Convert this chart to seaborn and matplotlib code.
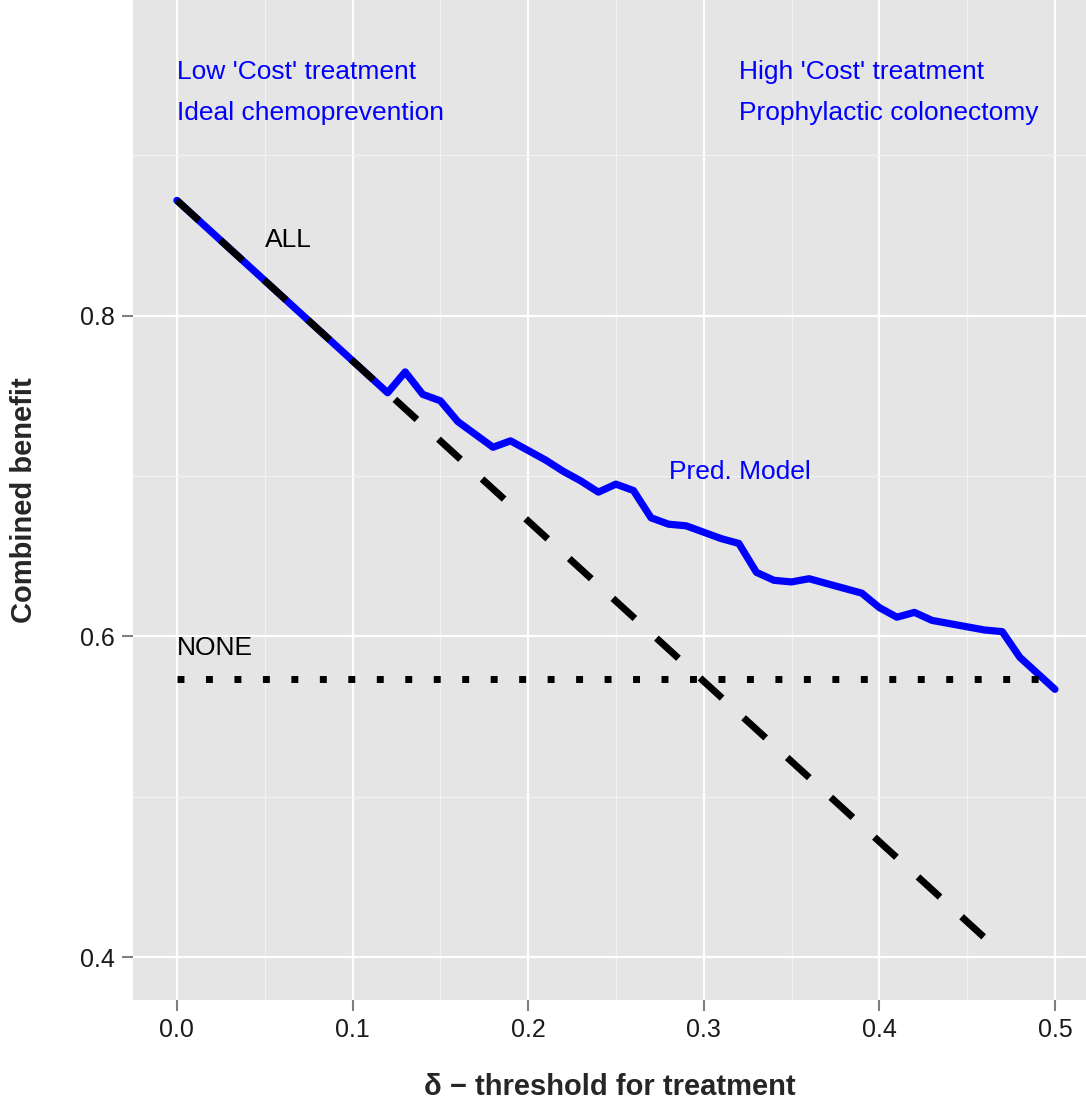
import numpy as np
import pandas as pd
import seaborn as sns
import matplotlib
matplotlib.use('Agg')
import matplotlib.pyplot as plt
from matplotlib.ticker import MultipleLocator

# Data
delta = [0.00, 0.01, 0.02, 0.03, 0.04, 0.05, 0.06, 0.07, 0.08, 0.09, 0.10,
         0.11, 0.12, 0.13, 0.14, 0.15, 0.16, 0.17, 0.18, 0.19, 0.20,
         0.21, 0.22, 0.23, 0.24, 0.25, 0.26, 0.27, 0.28, 0.29, 0.30,
         0.31, 0.32, 0.33, 0.34, 0.35, 0.36, 0.37, 0.38, 0.39, 0.40,
         0.41, 0.42, 0.43, 0.44, 0.45, 0.46, 0.47, 0.48, 0.49, 0.50]
pred_model = [0.872, 0.862, 0.852, 0.842, 0.832, 0.822, 0.812, 0.802, 0.792, 0.782, 0.772,
              0.762, 0.752, 0.765, 0.751, 0.747, 0.734, 0.726, 0.718, 0.722, 0.716,
              0.710, 0.703, 0.697, 0.690, 0.695, 0.691, 0.674, 0.670, 0.669, 0.665,
              0.661, 0.658, 0.640, 0.635, 0.634, 0.636, 0.633, 0.630, 0.627, 0.618,
              0.612, 0.615, 0.610, 0.608, 0.606, 0.604, 0.603, 0.587, 0.577, 0.567]
all_delta = [0.00, 0.46]
treat_all = [0.872, 0.412]
none_delta = [0.00, 0.50]
treat_none = [0.5735, 0.5735]

df_model = pd.DataFrame({'delta': delta, 'benefit': pred_model})
df_all = pd.DataFrame({'delta': all_delta, 'benefit': treat_all})
df_none = pd.DataFrame({'delta': none_delta, 'benefit': treat_none})

sns.set_theme(style='darkgrid', rc={'axes.facecolor': '#E5E5E5',
                                    'grid.color': 'white'})
plt.rcParams['font.family'] = ['Liberation Sans', 'DejaVu Sans']

fig = plt.figure(figsize=(10.86, 11.01), dpi=100)
ax = fig.add_axes([133 / 1086, 101 / 1101, 1 - 133 / 1086, 1000 / 1101])

# Pred. model curve (blue) under the ALL line
sns.lineplot(data=df_model, x='delta', y='benefit', color='#0000FF',
             linewidth=5.2, ax=ax, zorder=3)
sns.lineplot(data=df_all, x='delta', y='benefit', color='black',
             linewidth=5, linestyle=(0, (4.3, 4.2)), ax=ax, zorder=4)
sns.lineplot(data=df_none, x='delta', y='benefit', color='black',
             linewidth=5, linestyle=(0, (1, 3.1)), ax=ax, zorder=4)
for ln in ax.lines:
    ln.set_dash_capstyle('butt')
    ln.set_solid_capstyle('round')

ax.set_xlim(-0.025, 0.5177)
ax.set_ylim(0.3732, 0.997)
ax.set_xticks([0.0, 0.1, 0.2, 0.3, 0.4, 0.5])
ax.set_xticklabels(['0.0', '0.1', '0.2', '0.3', '0.4', '0.5'])
ax.set_yticks([0.4, 0.6, 0.8])
ax.set_yticklabels(['0.4', '0.6', '0.8'])
ax.xaxis.set_minor_locator(MultipleLocator(0.05))
ax.yaxis.set_minor_locator(MultipleLocator(0.1))
ax.grid(which='major', color='white', linewidth=1.6)
ax.grid(which='minor', color='#F2F2F2', linewidth=0.9)
ax.tick_params(which='major', length=8, width=1.5, color='#7F7F7F',
               labelsize=18, labelcolor='#1A1A1A', pad=5, bottom=True, left=True)
ax.tick_params(which='minor', length=0)
for s in ax.spines.values():
    s.set_visible(False)

ax.set_xlabel('δ − threshold for treatment', fontsize=21, fontweight='bold', labelpad=22)
ax.set_ylabel('Combined benefit', fontsize=21, fontweight='bold', labelpad=30)

blue = '#0000FF'
ax.text(0.0, 0.952, "Low 'Cost' treatment", color=blue, fontsize=19, va='center')
ax.text(0.0, 0.9267, 'Ideal chemoprevention', color=blue, fontsize=19, va='center')
ax.text(0.32, 0.952, "High 'Cost' treatment", color=blue, fontsize=19, va='center')
ax.text(0.32, 0.9267, 'Prophylactic colonectomy', color=blue, fontsize=19, va='center')
ax.text(0.28, 0.7027, 'Pred. Model', color=blue, fontsize=19, va='center')
ax.text(0.05, 0.847, 'ALL', color='black', fontsize=19, va='center')
ax.text(0.0, 0.5928, 'NONE', color='black', fontsize=19, va='center')

fig.savefig('out.png', dpi=100)
